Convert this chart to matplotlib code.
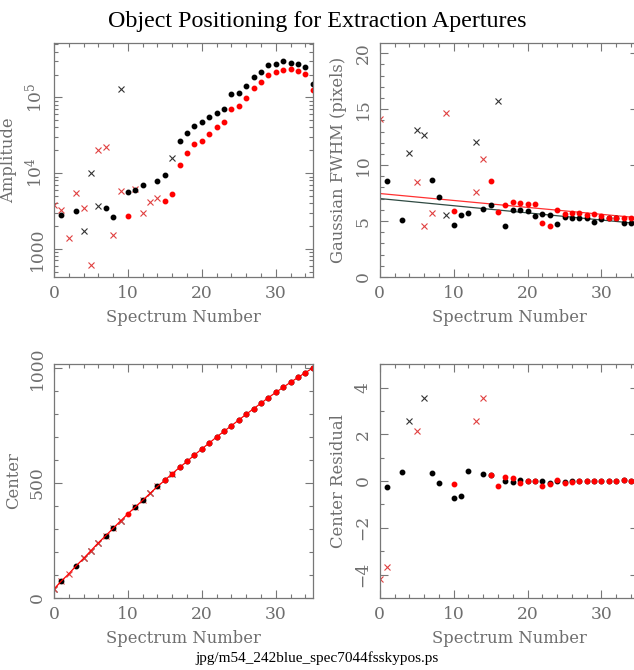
import numpy as np
import matplotlib
matplotlib.use("Agg")
import matplotlib.pyplot as plt
from matplotlib.ticker import MultipleLocator, LogLocator, NullFormatter

plt.rcParams["font.family"] = ["DejaVu Serif"]
plt.rcParams["mathtext.fontset"] = "dejavuserif"

# ---- Amplitude panel (log) ----
amp_bdot_x = [1, 3, 7, 8, 10, 11, 12, 14, 15] + list(range(17, 36))
amp_bdot_y = [2830, 3135, 3460, 2660, 5680, 6040, 6890, 7930, 9420,
              26400, 33600, 41500, 46900, 55700, 62200, 69500, 111700, 112900,
              142500, 187200, 215500, 266000, 277000, 297700, 286000, 280000,
              253000, 151000]
amp_rdot_x = [10, 15, 16] + list(range(17, 36))
amp_rdot_y = [2717, 4236, 5290,
              12880, 18160, 23850, 26900, 32950, 40740, 47900, 69500, 77640,
              97900, 132700, 157500, 196600, 215500, 231000, 233500, 219800,
              202700, 123600]
amp_bx_x = [4, 5, 6, 9, 16]
amp_bx_y = [1742, 10000, 3680, 128800, 15740]
amp_rx_x = [0, 1, 2, 3, 4, 5, 6, 7, 8, 9, 11, 12, 13, 14]
amp_rx_y = [3830, 3260, 1396, 5400, 3500, 615, 20280, 21770, 1528, 5740,
            6100, 2980, 4200, 4690]

# ---- FWHM panel ----
fw_bdot_x = [1, 3, 7, 8, 10, 11, 12, 14, 15] + list(range(17, 36))
fw_bdot_y = [8.6, 5.07, 8.66, 7.13, 4.63, 5.55, 5.70, 6.12, 6.39,
             4.60, 6.0, 6.0, 5.88, 5.49, 5.67, 5.58, 4.72, 5.37, 5.31, 5.28,
             5.31, 4.90, 5.19, 5.25, 5.25, 4.84, 4.84, 4.9]
fw_rdot_x = [10, 15, 16] + list(range(17, 36))
fw_rdot_y = [5.94, 8.6, 5.82,
             6.45, 6.69, 6.63, 6.51, 6.48, 4.78, 4.60, 5.97, 5.67, 5.76, 5.76,
             5.55, 5.64, 5.43, 5.31, 5.31, 5.31, 5.28, 5.2]
fw_bx_x = [4, 5, 6, 9, 13, 16]
fw_bx_y = [11.1, 13.13, 12.69, 5.52, 12.06, 15.76]
fw_rx_x = [0, 5, 6, 7, 9, 13, 14]
fw_rx_y = [14.12, 8.51, 4.57, 5.73, 14.63, 7.61, 10.57]
fw_fit_black = [-0.064, 7.01]   # slope, intercept
fw_fit_red = [-0.062, 7.46]

# ---- Center panel ----
spec = list(range(36))
center_fit = [39, 74, 105, 140, 172, 206, 240, 271, 303, 335, 366, 396, 425,
              455, 485, 512, 541, 568, 594, 622, 648, 674, 700, 725, 749, 774,
              799, 823, 847, 871, 894, 916, 938, 959, 980, 1000]
ce_bdot_x = [1, 3, 7, 8, 11, 12, 14, 15] + list(range(17, 36))
ce_rdot_x = [10, 15, 16] + list(range(17, 36))
ce_bx_x = [0, 4, 5, 6, 9, 13, 16]
ce_rx_x = [0, 1, 2, 4, 5, 6, 7, 8, 9, 11, 12, 13, 14]

# ---- Center residual panel ----
cr_bdot_x = [1, 3, 7, 8, 10, 11, 12, 14, 15] + list(range(17, 36))
cr_bdot_y = [-0.26, 0.38, 0.36, -0.1, -0.74, -0.65, 0.41, 0.31, 0.26,
             -0.01, -0.03, 0.04, 0.0, 0.0, -0.01, -0.09, 0.01, -0.02, 0.0,
             0.02, 0.0, 0.01, 0.0, 0.0, 0.01, 0.03, 0.0, 0.0]
cr_rdot_x = [10, 15, 16] + list(range(17, 36))
cr_rdot_y = [-0.11, 0.26, -0.23,
             0.16, 0.14, -0.1, 0.0, 0.01, -0.23, -0.14, 0.06, -0.07, -0.04,
             0.0, -0.01, 0.01, 0.0, -0.01, 0.0, 0.04, 0.01, 0.0]
cr_bx_x = [4, 6]
cr_bx_y = [2.57, 3.56]
cr_rx_x = [0, 1, 5, 13, 14]
cr_rx_y = [-4.17, -3.68, 2.12, 2.56, 3.56]

GRAY = "#6e6e6e"
RED = "#ff0000"
XRED = "#e04040"
XBLK = "#333333"
DOT = 3.2
XS = 4.0
FS = 11.8


def style(ax, ylabel, ymaj=None, ymin=None):
    for s in ax.spines.values():
        s.set_color("#777777")
        s.set_linewidth(0.9)
    ax.set_xlim(0, 35)
    ax.xaxis.set_major_locator(MultipleLocator(10))
    ax.xaxis.set_minor_locator(MultipleLocator(2))
    if ymaj is not None:
        ax.yaxis.set_major_locator(MultipleLocator(ymaj))
        ax.yaxis.set_minor_locator(MultipleLocator(ymin))
    ax.tick_params(which="both", direction="in", top=True, right=True,
                   color="#777777", labelcolor=GRAY, labelsize=FS + 0.5)
    ax.tick_params(which="major", length=6, width=0.8, pad=6)
    ax.tick_params(which="minor", length=3, width=0.8)
    for lab in ax.get_yticklabels():
        lab.set_rotation(90)
        lab.set_va("center")
    ax.set_xlabel("Spectrum Number", color=GRAY, fontsize=FS, labelpad=5)
    ax.set_ylabel(ylabel, color=GRAY, fontsize=FS, labelpad=5)


def marks(ax, bdx, bdy, rdx, rdy, bxx, bxy, rxx, rxy):
    ax.plot(bxx, bxy, "x", color=XBLK, ms=XS, mew=0.8, ls="none")
    ax.plot(rxx, rxy, "x", color=XRED, ms=XS, mew=0.8, ls="none")
    ax.plot(bdx, bdy, "o", color="black", ms=DOT, ls="none")
    ax.plot(rdx, rdy, "o", color=RED, ms=DOT, ls="none")


fig = plt.figure(figsize=(6.34, 6.70), dpi=100)
W, H = 0.408, 0.349
ax1 = fig.add_axes([0.0852, 0.5866, W, H])
ax2 = fig.add_axes([0.599, 0.5866, W, H])
ax3 = fig.add_axes([0.0852, 0.1075, W, H])
ax4 = fig.add_axes([0.599, 0.1075, W, H])

# Amplitude
marks(ax1, amp_bdot_x, amp_bdot_y, amp_rdot_x, amp_rdot_y,
      amp_bx_x, amp_bx_y, amp_rx_x, amp_rx_y)
ax1.set_yscale("log")
ax1.set_ylim(424, 5.2e5)
style(ax1, "Amplitude")
ax1.yaxis.set_minor_locator(LogLocator(base=10, subs=np.arange(2, 10)))
ax1.yaxis.set_minor_formatter(NullFormatter())
ax1.set_yticks([1e3, 1e4, 1e5], labels=["1000", r"$10^4$", r"$10^5$"])
for lab in ax1.get_yticklabels():
    lab.set_rotation(90)
    lab.set_va("center")

# FWHM
xx = np.array([0, 35])
ax2.plot(xx, np.polyval(fw_fit_red, xx), color="#ff3030", lw=0.9)
ax2.plot(xx, np.polyval(fw_fit_black, xx), color="#2f4a42", lw=0.9)
marks(ax2, fw_bdot_x, fw_bdot_y, fw_rdot_x, fw_rdot_y,
      fw_bx_x, fw_bx_y, fw_rx_x, fw_rx_y)
ax2.set_ylim(0, 20.9)
style(ax2, "Gaussian FWHM (pixels)", 5, 1)

# Center
cf = np.array(center_fit)
marks(ax3, ce_bdot_x, cf[ce_bdot_x], ce_rdot_x, cf[ce_rdot_x],
      ce_bx_x, cf[ce_bx_x], ce_rx_x, cf[ce_rx_x])
ax3.plot(spec, cf, color=RED, lw=0.9)
ax3.set_ylim(0, 1017)
style(ax3, "Center", 500, 100)

# Center residual
marks(ax4, cr_bdot_x, cr_bdot_y, cr_rdot_x, cr_rdot_y,
      cr_bx_x, cr_bx_y, cr_rx_x, cr_rx_y)
ax4.set_ylim(-5, 5)
style(ax4, "Center Residual", 2, 1)

fig.text(0.5, 0.968, "Object Positioning for Extraction Apertures",
         ha="center", va="center", fontsize=17.3, family="Liberation Serif")
fig.text(0.5, 0.018, "jpg/m54_242blue_spec7044fsskypos.ps",
         ha="center", va="center", fontsize=11, family="Liberation Serif")

fig.savefig("out.png", dpi=100)
